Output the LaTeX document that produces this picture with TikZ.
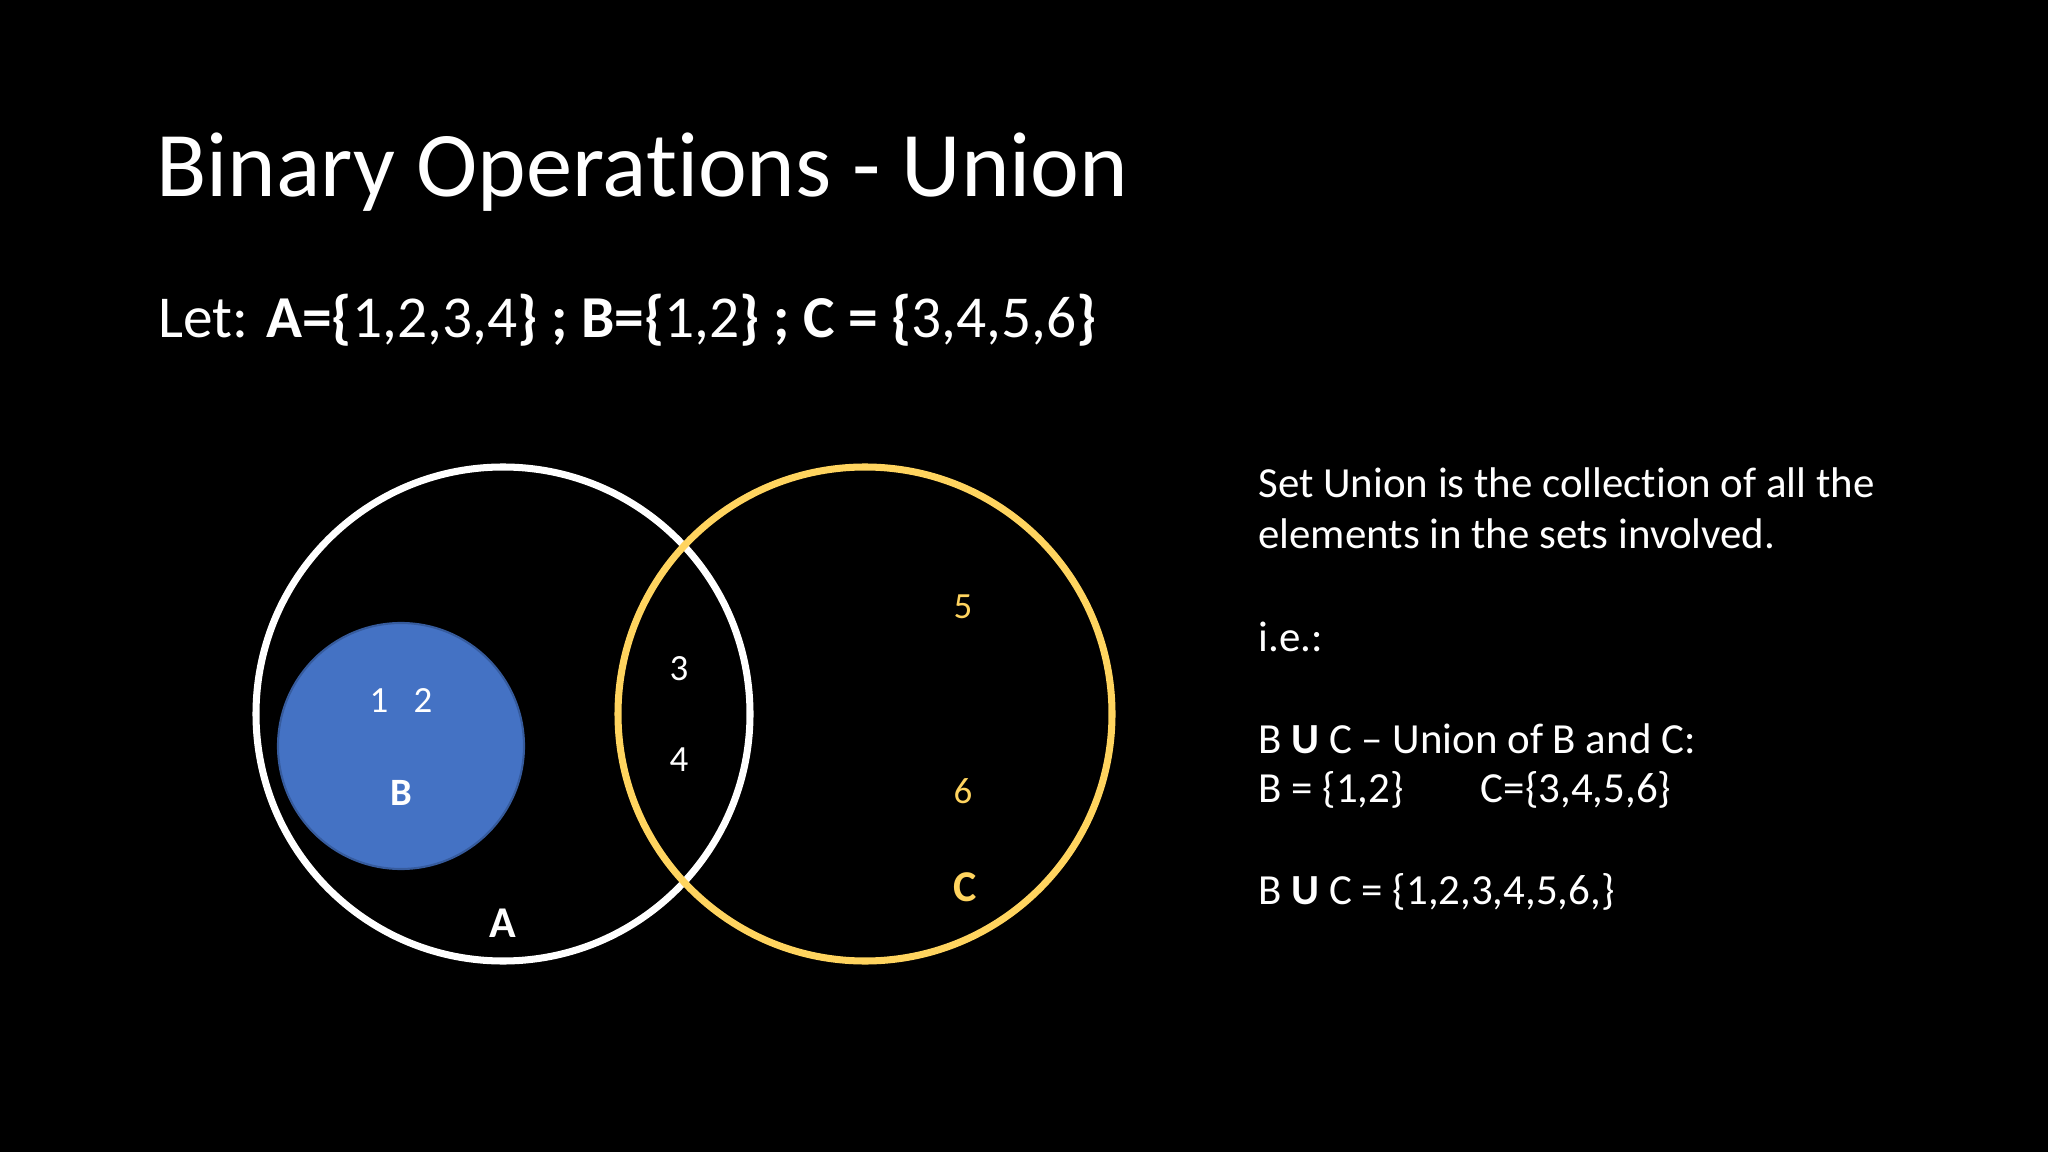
\documentclass[tikz,border=0pt]{standalone}
\usepackage{fontspec}
\setmainfont{Carlito}[Ligatures={NoCommon,NoRare,NoContextual}]
\definecolor{ylw}{HTML}{FFD45F}
\definecolor{blu}{HTML}{4472C4}
\begin{document}
\begin{tikzpicture}[x=0.01cm,y=-0.01cm,
  num/.style={text=white,font=\fontsize{10.5}{12}\selectfont},
  ynum/.style={text=ylw,font=\fontsize{10.5}{12}\selectfont},
  body/.style={text=white,anchor=west,font=\fontsize{12.2}{14}\selectfont}]
\fill[black] (0,0) rectangle (2048,1152);
\useasboundingbox (0,0) rectangle (2048,1152);
\node[anchor=west,text=white,font=\fontsize{26.3}{30}\selectfont] (title) at (144,172) {Binary Operations - Union};
\node[anchor=west,text=white,font=\fontsize{16.9}{20}\selectfont] (let) at (146,320) {Let: \textbf{A=\{}1,2,3,4\textbf{\} ; B=\{}1,2\textbf{\} ; C = \{}3,4,5,6\textbf{\}}};
\fill[blu] (401,746) circle (123);
\draw[blu!80!black,line width=0.6pt] (401,746) circle (123);
\draw[white,line width=2pt] (503,714) circle (247);
\draw[ylw,line width=2pt] (865,714) circle (247);
\node[num] (n1) at (379,701) {1};
\node[num] (n2) at (423,701) {2};
\node[text=white,font=\bfseries\fontsize{11}{13}\selectfont] (lb) at (401,793) {B};
\node[text=white,font=\bfseries\fontsize{12.5}{14}\selectfont] (la) at (503,923) {A};
\node[num] (n3) at (679,669) {3};
\node[num] (n4) at (679,760) {4};
\node[ynum] (n5) at (963,607) {5};
\node[ynum] (n6) at (963,791) {6};
\node[text=ylw,font=\bfseries\fontsize{12.5}{14}\selectfont] (lc) at (965,887) {C};
\node[body] (t1) at (1246,483) {Set Union is the collection of all the};
\node[body] (t2) at (1246,534) {elements in the sets involved.};
\node[body] (t3) at (1246,637) {i.e.:};
\node[body] (t4) at (1246,739) {B \textbf{U} C -- Union of B and C:};
\node[body] (t5) at (1246,790) {B = \{1,2\}\hspace{1.8em}C=\{3,4,5,6\}};
\node[body] (t6) at (1246,892) {B \textbf{U} C = \{1,2,3,4,5,6,\}};
\end{tikzpicture}
\end{document}
